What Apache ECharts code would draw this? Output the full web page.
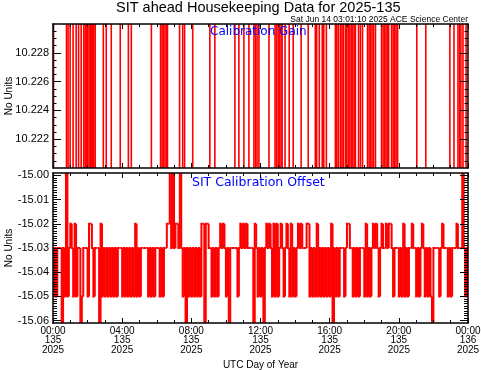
<!DOCTYPE html>
<html><head><meta charset="utf-8">
<script src="https://cdn.jsdelivr.net/npm/echarts@6/dist/echarts.min.js"></script>
<style>html,body{margin:0;padding:0;background:#fff}#c{width:481px;height:370px}</style>
</head><body><div id="c"></div>
<script>
// ---- data (hours of day 135, 2025) ----
const gainTimes = [0, 0.03, 0.78, 0.87, 0.99, 1.16, 1.34, 1.48, 1.63, 1.78, 1.86, 1.94, 2.01, 2.09, 2.17, 2.21, 2.28, 2.36, 2.44, 2.91,
  3.08, 3.37, 3.89, 4.36, 4.53, 5.69, 6.22, 6.31, 6.39, 6.48, 6.57, 6.62, 7.32, 7.50, 7.61, 8.08, 9.07, 9.36, 10.52, 10.75,
  11.04, 11.33, 11.62, 11.71, 11.80, 11.91, 12.49, 12.84, 12.93, 13.02, 13.10, 13.19, 13.25, 13.42, 13.66, 13.89, 14.35, 14.76, 15.17, 15.25,
  15.40, 15.57, 15.66, 15.81, 16.33, 16.41, 16.50, 16.62, 16.71, 16.79, 16.91, 16.99, 17.08, 17.17, 17.26, 17.34, 17.43, 17.49, 17.67, 17.78,
  17.90, 18.19, 18.28, 18.36, 18.45, 18.54, 18.65, 19.00, 19.09, 19.18, 19.26, 19.35, 19.41, 19.58, 19.67, 19.76, 19.84, 19.93, 21.04, 21.56,
  22.95, 23.19, 23.42, 23.51, 23.59, 23.71, 23.89, 24];
const gainValues = [10.2195, 10.2305, 10.2195, 10.2305, 10.2195, 10.2305, 10.2195, 10.2305, 10.2195, 10.2305, 10.2195, 10.2305, 10.2195, 10.2305, 10.2195, 10.2305, 10.2195, 10.2305, 10.2195, 10.2305,
  10.2195, 10.2305, 10.2195, 10.2305, 10.2195, 10.2305, 10.2195, 10.2305, 10.2195, 10.2305, 10.2195, 10.2305, 10.2195, 10.2305, 10.2195, 10.2305, 10.2195, 10.2305, 10.2195, 10.2305,
  10.2195, 10.2305, 10.2195, 10.2305, 10.2195, 10.2305, 10.2195, 10.2305, 10.2195, 10.2305, 10.2195, 10.2305, 10.2195, 10.2305, 10.2195, 10.2305, 10.2195, 10.2305, 10.2195, 10.2305,
  10.2195, 10.2305, 10.2195, 10.2305, 10.2195, 10.2305, 10.2195, 10.2305, 10.2195, 10.2305, 10.2195, 10.2305, 10.2195, 10.2305, 10.2195, 10.2305, 10.2195, 10.2305, 10.2195, 10.2305,
  10.2195, 10.2305, 10.2195, 10.2305, 10.2195, 10.2305, 10.2195, 10.2305, 10.2195, 10.2305, 10.2195, 10.2305, 10.2195, 10.2305, 10.2195, 10.2305, 10.2195, 10.2305, 10.2195, 10.2305,
  10.2195, 10.2305, 10.2195, 10.2305, 10.2195, 10.2305, 10.2195, 10.2195];

// SIT calibration offset, one value per 5-minute sample (289 samples, 00:00 -> 24:00)
const offsetSampleMinutes = 5;
const offsetValues = [
  -15.05,-15.03,-15.05,-15.03,-15.03,-15.03,-15.07,-15.03,-15.05,-14.99,-15.05,-15.03,
  -15.02,-15.03,-15.05,-15.02,-15.05,-15.03,-15.03,-15.07,-15.05,-15.03,-15.03,-15.03,
  -15.05,-15.02,-15.02,-15.03,-15.05,-15.03,-15.03,-15.03,-15.07,-15.02,-15.05,-15.03,
  -15.05,-15.03,-15.05,-15.03,-15.05,-15.03,-15.05,-15.03,-15.05,-15.03,-15.03,-15.03,
  -15.05,-15.03,-15.05,-15.03,-15.05,-15.03,-15.05,-15.03,-15.05,-15.02,-15.05,-15.03,
  -15.05,-15.03,-15.03,-15.03,-15.03,-15.03,-15.05,-15.03,-15.05,-15.03,-15.05,-15.03,
  -15.03,-15.03,-15.05,-15.03,-15.05,-15.03,-15.03,-15.02,-15.02,-14.99,-15.03,-14.99,
  -15.03,-15.02,-15.02,-15.03,-14.99,-15.03,-15.05,-15.03,-15.07,-15.03,-15.05,-15.03,
  -15.05,-15.03,-15.05,-15.03,-15.05,-15.03,-15.05,-15.02,-15.02,-15.07,-15.02,-15.02,
  -15.03,-15.03,-15.05,-15.03,-15.05,-15.03,-15.05,-15.03,-15.02,-15.03,-15.02,-15.03,
  -15.05,-15.03,-15.07,-15.03,-15.03,-15.03,-15.03,-15.03,-15.05,-15.03,-15.02,-15.03,
  -15.02,-15.03,-15.02,-15.03,-15.03,-15.03,-15.03,-15.07,-15.02,-15.03,-15.05,-15.03,
  -15.05,-15.03,-15.07,-15.03,-15.02,-15.03,-15.02,-15.03,-15.05,-15.02,-15.05,-15.02,
  -15.05,-15.03,-15.02,-15.03,-15.05,-15.03,-15.02,-15.03,-15.05,-15.02,-15.05,-15.03,
  -15.05,-15.03,-15.02,-15.03,-15.02,-15.03,-15.03,-15.03,-15.02,-15.02,-15.05,-15.03,
  -15.05,-15.03,-15.05,-15.02,-15.05,-15.03,-15.05,-15.03,-15.05,-15.03,-15.05,-15.03,
  -15.05,-15.02,-15.07,-15.03,-15.05,-15.03,-15.05,-15.03,-15.03,-15.03,-15.05,-15.03,
  -15.02,-15.02,-15.03,-15.03,-15.05,-15.03,-15.05,-15.03,-15.05,-15.03,-15.03,-15.03,
  -15.05,-15.02,-15.05,-15.03,-15.05,-15.03,-15.02,-15.03,-15.02,-15.03,-15.05,-15.03,
  -15.02,-15.03,-15.03,-15.02,-15.03,-15.02,-15.02,-15.03,-15.05,-15.03,-15.03,-15.03,
  -15.05,-15.03,-15.05,-15.02,-15.05,-15.03,-15.05,-15.03,-15.03,-15.02,-15.03,-15.03,
  -15.05,-15.03,-15.05,-15.03,-15.02,-15.03,-15.05,-15.03,-15.05,-15.03,-15.05,-15.07,
  -15.03,-15.03,-15.03,-15.03,-15.05,-15.03,-15.02,-15.03,-15.03,-15.03,-15.05,-15.03,
  -15.05,-15.03,-15.03,-15.03,-15.02,-15.03,-15.03,-15.03,-14.99,-15.03,-15.05,-15.03,
  -15.05];

// ---- axes / tick labels ----
const xTickHours = [0, 4, 8, 12, 16, 20, 24];
const xTickLabels = ['00:00\n135\n2025', '04:00\n135\n2025', '08:00\n135\n2025', '12:00\n135\n2025',
                     '16:00\n135\n2025', '20:00\n135\n2025', '00:00\n136\n2025'];
const gainRange = [10.220, 10.230];
const gainTicks = [10.222, 10.224, 10.226, 10.228];
const offsetRange = [-15.061, -14.999];
const offsetTicks = [-15.06, -15.05, -15.04, -15.03, -15.02, -15.01, -15.00];

// minor tick positions
const gainMinor = [];
for (let k = 1; k < 20; k++) gainMinor.push(Math.round((10.220 + k * 0.0005) * 10000) / 10000);
const offsetMinor = [];
for (let k = 1; k <= 61; k++) offsetMinor.push(Math.round((-15.061 + k * 0.001) * 1000) / 1000);

const offsetTimes = offsetValues.map((v, i) => i * offsetSampleMinutes / 60);

// step items: [time, value, previous value, next time]
function stepItems(times, values) {
  return values.map((v, i) => [times[i], v, i > 0 ? values[i - 1] : v, i < times.length - 1 ? times[i + 1] : times[i]]);
}

const FONT = 'Liberation Sans';
const BLACK = '#000';
const RED = '#ff0000';

function xAxis(grid, pos, labels) {
  return {
    type: 'value', gridIndex: grid, position: pos, min: 0, max: 24, interval: 4, z: 10,
    axisLine: { show: true, onZero: false, lineStyle: { color: BLACK, width: 1.5 } },
    axisTick: { show: true, inside: true, length: 5, lineStyle: { color: BLACK, width: 1 } },
    minorTick: { show: true, splitNumber: 4, length: 3, lineStyle: { color: BLACK, width: 1 } },
    splitLine: { show: false }, minorSplitLine: { show: false },
    axisLabel: {
      show: labels, color: BLACK, fontFamily: FONT, fontSize: 10, lineHeight: 9.5, margin: 3,
      formatter: v => xTickLabels[xTickHours.indexOf(v)]
    },
    name: labels ? 'UTC Day of Year' : '', nameLocation: 'middle', nameGap: 37, nameMoveOverlap: false,
    nameTextStyle: { color: BLACK, fontFamily: FONT, fontSize: 10 }
  };
}
function yAxis(grid, pos, range, majors, minors, isMinor, labels, digits) {
  return {
    type: 'value', gridIndex: grid, position: pos, min: range[0], max: range[1], z: 10,
    axisLine: { show: !isMinor, onZero: false, lineStyle: { color: BLACK, width: 1.5 } },
    axisTick: { show: true, inside: true, length: isMinor ? (grid === 0 ? 3.5 : 4) : 8,
                customValues: isMinor ? minors : majors, lineStyle: { color: BLACK, width: 1 } },
    splitLine: { show: false },
    axisLabel: { show: labels, customValues: majors, color: BLACK, fontFamily: FONT, fontSize: 11, margin: 4,
                 formatter: v => v.toFixed(digits) },
    name: labels ? 'No Units' : '', nameLocation: 'middle', nameGap: 39, nameRotate: 90, nameMoveOverlap: false,
    nameTextStyle: { color: BLACK, fontFamily: FONT, fontSize: 10 }
  };
}

function makeRenderStep(width) {
  return function (params, api) {
    const a = api.coord([api.value(0), api.value(2)]);
    const b = api.coord([api.value(0), api.value(1)]);
    const c = api.coord([api.value(3), api.value(1)]);
    return { type: 'polyline', shape: { points: [a, b, c] },
             style: { stroke: RED, lineWidth: width, fill: null } };
  };
}

const chart = echarts.init(document.getElementById('c'), null, { renderer: 'canvas' });
chart.setOption({
  animation: false,
  backgroundColor: '#fff',
  grid: [
    { left: 53, top: 24, width: 415, height: 144, outerBoundsMode: 'none', containLabel: false },
    { left: 53, top: 173, width: 415, height: 150, outerBoundsMode: 'none', containLabel: false }
  ],
  xAxis: [xAxis(0, 'bottom', false), xAxis(0, 'top', false), xAxis(1, 'bottom', true), xAxis(1, 'top', false)],
  yAxis: [
    yAxis(0, 'left', gainRange, gainTicks, gainMinor, false, true, 3),
    yAxis(0, 'left', gainRange, gainTicks, gainMinor, true, false, 3),
    yAxis(0, 'right', gainRange, gainTicks, gainMinor, false, false, 3),
    yAxis(0, 'right', gainRange, gainTicks, gainMinor, true, false, 3),
    yAxis(1, 'left', offsetRange, offsetTicks, offsetMinor, false, true, 2),
    yAxis(1, 'left', offsetRange, offsetTicks, offsetMinor, true, false, 2),
    yAxis(1, 'right', offsetRange, offsetTicks, offsetMinor, false, false, 2),
    yAxis(1, 'right', offsetRange, offsetTicks, offsetMinor, true, false, 2)
  ],
  series: [
    {
      name: 'Calibration Gain', type: 'custom', coordinateSystem: 'cartesian2d',
      xAxisIndex: 0, yAxisIndex: 0, clip: true, z: 2, silent: true,
      dimensions: ['t', 'v', 'pv', 'tn'], encode: { x: [0, 3], y: [1, 2] },
      renderItem: makeRenderStep(1.6),
      data: stepItems(gainTimes, gainValues)
    },
    {
      name: 'SIT Calibration Offset', type: 'custom', coordinateSystem: 'cartesian2d',
      xAxisIndex: 2, yAxisIndex: 4, clip: true, z: 2, silent: true,
      dimensions: ['t', 'v', 'pv', 'tn'], encode: { x: [0, 3], y: [1, 2] },
      renderItem: makeRenderStep(2),
      data: stepItems(offsetTimes, offsetValues)
    }
  ],
  graphic: [
    { type: 'text', left: 116, top: 0, z: 100,
      style: { text: 'SIT ahead Housekeeping Data for 2025-135', fill: BLACK, font: '14.5px "Liberation Sans"' } },
    { type: 'text', right: 13, top: 15, z: 100,
      style: { text: 'Sat Jun 14 03:01:10 2025 ACE Science Center', fill: BLACK, font: '8.5px "Liberation Sans"' } },
    { type: 'text', left: 210, top: 26, z: 100,
      style: { text: 'Calibration Gain', fill: '#0000ff', font: '12px "DejaVu Sans"' } },
    { type: 'text', left: 192, top: 176, z: 100,
      style: { text: 'SIT Calibration Offset', fill: '#0000ff', font: '12.5px "DejaVu Sans"' } }
  ]
});
</script>
</body></html>
